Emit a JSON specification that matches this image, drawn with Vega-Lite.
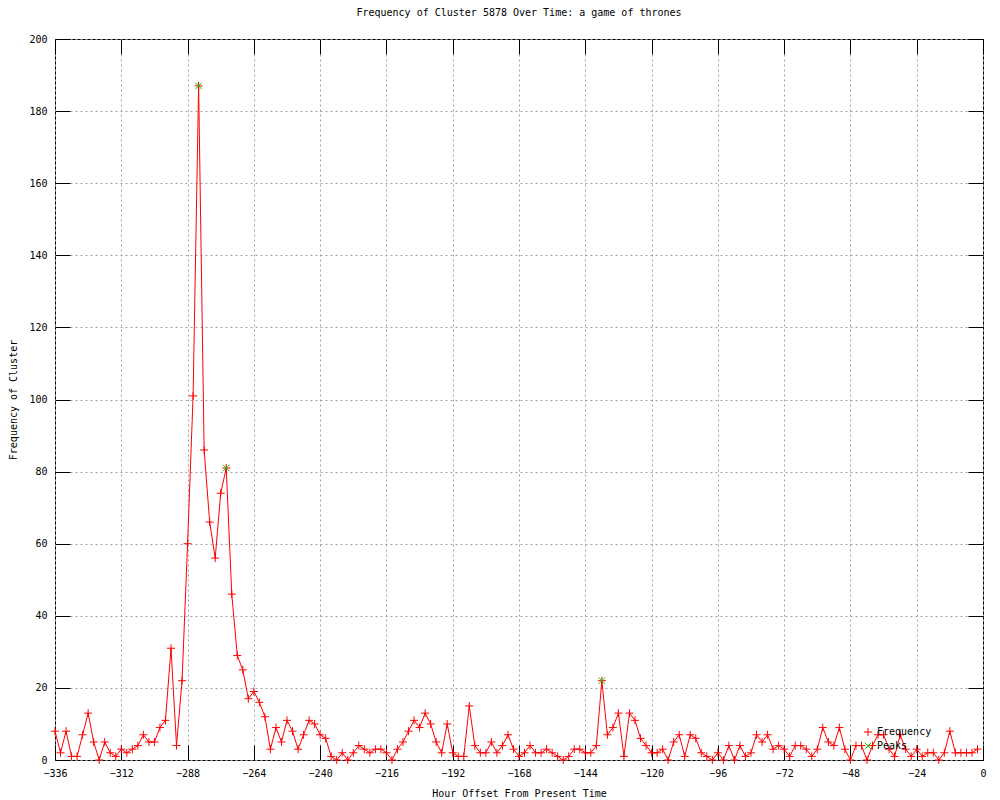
{
  "$schema": "https://vega.github.io/schema/vega-lite/v6.json",
  "width": 928,
  "height": 721,
  "autosize": {"type": "none"},
  "padding": {"left": 55, "top": 39, "right": 17, "bottom": 40},
  "background": "white",
  "title": {
    "text": "Frequency of Cluster 5878 Over Time: a game of thrones",
    "font": "DejaVu Sans Mono",
    "fontSize": 10,
    "fontWeight": "normal",
    "color": "black",
    "anchor": "middle",
    "offset": 16
  },
  "config": {
    "view": {"stroke": "black", "strokeWidth": 1},
    "axis": {
      "labelFont": "DejaVu Sans Mono",
      "labelFontSize": 10,
      "labelColor": "black",
      "labelFlush": false,
      "labelOverlap": false,
      "titleFont": "DejaVu Sans Mono",
      "titleFontSize": 10,
      "titleFontWeight": "normal",
      "titleColor": "black",
      "domain": false,
      "tickColor": "black",
      "tickSize": -15,
      "tickWidth": 1,
      "gridColor": "#a0a0a0",
      "gridDash": [2, 3],
      "gridWidth": 1,
      "gridOpacity": 1
    }
  },
  "data": {
    "values": [
      {"hour": -336, "count": 8, "series": "Frequency"},
      {"hour": -334, "count": 2, "series": "Frequency"},
      {"hour": -332, "count": 8, "series": "Frequency"},
      {"hour": -330, "count": 1, "series": "Frequency"},
      {"hour": -328, "count": 1, "series": "Frequency"},
      {"hour": -326, "count": 7, "series": "Frequency"},
      {"hour": -324, "count": 13, "series": "Frequency"},
      {"hour": -322, "count": 5, "series": "Frequency"},
      {"hour": -320, "count": 0, "series": "Frequency"},
      {"hour": -318, "count": 5, "series": "Frequency"},
      {"hour": -316, "count": 2, "series": "Frequency"},
      {"hour": -314, "count": 1, "series": "Frequency"},
      {"hour": -312, "count": 3, "series": "Frequency"},
      {"hour": -310, "count": 2, "series": "Frequency"},
      {"hour": -308, "count": 3, "series": "Frequency"},
      {"hour": -306, "count": 4, "series": "Frequency"},
      {"hour": -304, "count": 7, "series": "Frequency"},
      {"hour": -302, "count": 5, "series": "Frequency"},
      {"hour": -300, "count": 5, "series": "Frequency"},
      {"hour": -298, "count": 9, "series": "Frequency"},
      {"hour": -296, "count": 11, "series": "Frequency"},
      {"hour": -294, "count": 31, "series": "Frequency"},
      {"hour": -292, "count": 4, "series": "Frequency"},
      {"hour": -290, "count": 22, "series": "Frequency"},
      {"hour": -288, "count": 60, "series": "Frequency"},
      {"hour": -286, "count": 101, "series": "Frequency"},
      {"hour": -284, "count": 187, "series": "Frequency"},
      {"hour": -282, "count": 86, "series": "Frequency"},
      {"hour": -280, "count": 66, "series": "Frequency"},
      {"hour": -278, "count": 56, "series": "Frequency"},
      {"hour": -276, "count": 74, "series": "Frequency"},
      {"hour": -274, "count": 81, "series": "Frequency"},
      {"hour": -272, "count": 46, "series": "Frequency"},
      {"hour": -270, "count": 29, "series": "Frequency"},
      {"hour": -268, "count": 25, "series": "Frequency"},
      {"hour": -266, "count": 17, "series": "Frequency"},
      {"hour": -264, "count": 19, "series": "Frequency"},
      {"hour": -262, "count": 16, "series": "Frequency"},
      {"hour": -260, "count": 12, "series": "Frequency"},
      {"hour": -258, "count": 3, "series": "Frequency"},
      {"hour": -256, "count": 9, "series": "Frequency"},
      {"hour": -254, "count": 5, "series": "Frequency"},
      {"hour": -252, "count": 11, "series": "Frequency"},
      {"hour": -250, "count": 8, "series": "Frequency"},
      {"hour": -248, "count": 3, "series": "Frequency"},
      {"hour": -246, "count": 7, "series": "Frequency"},
      {"hour": -244, "count": 11, "series": "Frequency"},
      {"hour": -242, "count": 10, "series": "Frequency"},
      {"hour": -240, "count": 7, "series": "Frequency"},
      {"hour": -238, "count": 6, "series": "Frequency"},
      {"hour": -236, "count": 1, "series": "Frequency"},
      {"hour": -234, "count": 0, "series": "Frequency"},
      {"hour": -232, "count": 2, "series": "Frequency"},
      {"hour": -230, "count": 0, "series": "Frequency"},
      {"hour": -228, "count": 2, "series": "Frequency"},
      {"hour": -226, "count": 4, "series": "Frequency"},
      {"hour": -224, "count": 3, "series": "Frequency"},
      {"hour": -222, "count": 2, "series": "Frequency"},
      {"hour": -220, "count": 3, "series": "Frequency"},
      {"hour": -218, "count": 3, "series": "Frequency"},
      {"hour": -216, "count": 2, "series": "Frequency"},
      {"hour": -214, "count": 0, "series": "Frequency"},
      {"hour": -212, "count": 3, "series": "Frequency"},
      {"hour": -210, "count": 5, "series": "Frequency"},
      {"hour": -208, "count": 8, "series": "Frequency"},
      {"hour": -206, "count": 11, "series": "Frequency"},
      {"hour": -204, "count": 9, "series": "Frequency"},
      {"hour": -202, "count": 13, "series": "Frequency"},
      {"hour": -200, "count": 10, "series": "Frequency"},
      {"hour": -198, "count": 5, "series": "Frequency"},
      {"hour": -196, "count": 2, "series": "Frequency"},
      {"hour": -194, "count": 10, "series": "Frequency"},
      {"hour": -192, "count": 2, "series": "Frequency"},
      {"hour": -190, "count": 1, "series": "Frequency"},
      {"hour": -188, "count": 1, "series": "Frequency"},
      {"hour": -186, "count": 15, "series": "Frequency"},
      {"hour": -184, "count": 4, "series": "Frequency"},
      {"hour": -182, "count": 2, "series": "Frequency"},
      {"hour": -180, "count": 2, "series": "Frequency"},
      {"hour": -178, "count": 5, "series": "Frequency"},
      {"hour": -176, "count": 2, "series": "Frequency"},
      {"hour": -174, "count": 4, "series": "Frequency"},
      {"hour": -172, "count": 7, "series": "Frequency"},
      {"hour": -170, "count": 3, "series": "Frequency"},
      {"hour": -168, "count": 1, "series": "Frequency"},
      {"hour": -166, "count": 2, "series": "Frequency"},
      {"hour": -164, "count": 4, "series": "Frequency"},
      {"hour": -162, "count": 2, "series": "Frequency"},
      {"hour": -160, "count": 2, "series": "Frequency"},
      {"hour": -158, "count": 3, "series": "Frequency"},
      {"hour": -156, "count": 2, "series": "Frequency"},
      {"hour": -154, "count": 1, "series": "Frequency"},
      {"hour": -152, "count": 0, "series": "Frequency"},
      {"hour": -150, "count": 1, "series": "Frequency"},
      {"hour": -148, "count": 3, "series": "Frequency"},
      {"hour": -146, "count": 3, "series": "Frequency"},
      {"hour": -144, "count": 2, "series": "Frequency"},
      {"hour": -142, "count": 2, "series": "Frequency"},
      {"hour": -140, "count": 4, "series": "Frequency"},
      {"hour": -138, "count": 22, "series": "Frequency"},
      {"hour": -136, "count": 7, "series": "Frequency"},
      {"hour": -134, "count": 9, "series": "Frequency"},
      {"hour": -132, "count": 13, "series": "Frequency"},
      {"hour": -130, "count": 1, "series": "Frequency"},
      {"hour": -128, "count": 13, "series": "Frequency"},
      {"hour": -126, "count": 11, "series": "Frequency"},
      {"hour": -124, "count": 6, "series": "Frequency"},
      {"hour": -122, "count": 4, "series": "Frequency"},
      {"hour": -120, "count": 2, "series": "Frequency"},
      {"hour": -118, "count": 2, "series": "Frequency"},
      {"hour": -116, "count": 3, "series": "Frequency"},
      {"hour": -114, "count": 0, "series": "Frequency"},
      {"hour": -112, "count": 5, "series": "Frequency"},
      {"hour": -110, "count": 7, "series": "Frequency"},
      {"hour": -108, "count": 1, "series": "Frequency"},
      {"hour": -106, "count": 7, "series": "Frequency"},
      {"hour": -104, "count": 6, "series": "Frequency"},
      {"hour": -102, "count": 2, "series": "Frequency"},
      {"hour": -100, "count": 1, "series": "Frequency"},
      {"hour": -98, "count": 0, "series": "Frequency"},
      {"hour": -96, "count": 2, "series": "Frequency"},
      {"hour": -94, "count": 0, "series": "Frequency"},
      {"hour": -92, "count": 4, "series": "Frequency"},
      {"hour": -90, "count": 0, "series": "Frequency"},
      {"hour": -88, "count": 4, "series": "Frequency"},
      {"hour": -86, "count": 1, "series": "Frequency"},
      {"hour": -84, "count": 2, "series": "Frequency"},
      {"hour": -82, "count": 7, "series": "Frequency"},
      {"hour": -80, "count": 5, "series": "Frequency"},
      {"hour": -78, "count": 7, "series": "Frequency"},
      {"hour": -76, "count": 3, "series": "Frequency"},
      {"hour": -74, "count": 4, "series": "Frequency"},
      {"hour": -72, "count": 3, "series": "Frequency"},
      {"hour": -70, "count": 1, "series": "Frequency"},
      {"hour": -68, "count": 4, "series": "Frequency"},
      {"hour": -66, "count": 4, "series": "Frequency"},
      {"hour": -64, "count": 3, "series": "Frequency"},
      {"hour": -62, "count": 1, "series": "Frequency"},
      {"hour": -60, "count": 3, "series": "Frequency"},
      {"hour": -58, "count": 9, "series": "Frequency"},
      {"hour": -56, "count": 5, "series": "Frequency"},
      {"hour": -54, "count": 4, "series": "Frequency"},
      {"hour": -52, "count": 9, "series": "Frequency"},
      {"hour": -50, "count": 3, "series": "Frequency"},
      {"hour": -48, "count": 0, "series": "Frequency"},
      {"hour": -46, "count": 4, "series": "Frequency"},
      {"hour": -44, "count": 4, "series": "Frequency"},
      {"hour": -42, "count": 0, "series": "Frequency"},
      {"hour": -40, "count": 4, "series": "Frequency"},
      {"hour": -38, "count": 7, "series": "Frequency"},
      {"hour": -36, "count": 7, "series": "Frequency"},
      {"hour": -34, "count": 3, "series": "Frequency"},
      {"hour": -32, "count": 1, "series": "Frequency"},
      {"hour": -30, "count": 7, "series": "Frequency"},
      {"hour": -28, "count": 3, "series": "Frequency"},
      {"hour": -26, "count": 1, "series": "Frequency"},
      {"hour": -24, "count": 3, "series": "Frequency"},
      {"hour": -22, "count": 1, "series": "Frequency"},
      {"hour": -20, "count": 2, "series": "Frequency"},
      {"hour": -18, "count": 2, "series": "Frequency"},
      {"hour": -16, "count": 0, "series": "Frequency"},
      {"hour": -14, "count": 2, "series": "Frequency"},
      {"hour": -12, "count": 8, "series": "Frequency"},
      {"hour": -10, "count": 2, "series": "Frequency"},
      {"hour": -8, "count": 2, "series": "Frequency"},
      {"hour": -6, "count": 2, "series": "Frequency"},
      {"hour": -4, "count": 2, "series": "Frequency"},
      {"hour": -2, "count": 3, "series": "Frequency"},
      {"hour": -284, "count": 187, "series": "Peaks"},
      {"hour": -274, "count": 81, "series": "Peaks"},
      {"hour": -138, "count": 22, "series": "Peaks"}
    ]
  },
  "resolve": {"axis": {"x": "independent", "y": "independent"}},
  "layer": [
    {
      "transform": [{"filter": "datum.series === 'Frequency'"}],
      "mark": {"type": "line", "color": "#ff0000", "strokeWidth": 1, "clip": false},
      "encoding": {
        "x": {
          "field": "hour", "type": "quantitative",
          "scale": {"domain": [-336, 0], "nice": false, "zero": false},
          "axis": {
            "orient": "bottom",
            "title": "Hour Offset From Present Time",
            "values": [-336, -312, -288, -264, -240, -216, -192, -168, -144, -120, -96, -72, -48, -24, 0],
            "grid": true,
            "labelPadding": 23,
            "labelBaseline": "top",
            "titleY": 33,
            "titleBaseline": "middle"
          }
        },
        "y": {
          "field": "count", "type": "quantitative",
          "scale": {"domain": [0, 200], "nice": false, "zero": true},
          "axis": {
            "orient": "left",
            "title": "Frequency of Cluster",
            "values": [0, 20, 40, 60, 80, 100, 120, 140, 160, 180, 200],
            "grid": true,
            "labelPadding": 23,
            "titleX": -42,
            "titleBaseline": "middle"
          }
        }
      }
    },
    {
      "mark": {"type": "point", "filled": false, "strokeWidth": 1, "opacity": 1, "clip": false},
      "encoding": {
        "x": {"field": "hour", "type": "quantitative", "axis": null},
        "y": {"field": "count", "type": "quantitative", "axis": null},
        "color": {
          "field": "series", "type": "nominal",
          "scale": {"domain": ["Frequency", "Peaks"], "range": ["#ff0000", "#00cc00"]},
          "legend": {
            "title": null,
            "orient": "none",
            "legendX": 808,
            "legendY": 688,
            "labelFont": "DejaVu Sans Mono",
            "labelFontSize": 10,
            "labelColor": "black",
            "rowPadding": 2,
            "symbolSize": 64,
            "symbolStrokeWidth": 1,
            "padding": 0
          }
        },
        "shape": {
          "field": "series", "type": "nominal",
          "scale": {"domain": ["Frequency", "Peaks"], "range": ["M-1,0L1,0M0,-1L0,1", "M-0.8,-0.8L0.8,0.8M-0.8,0.8L0.8,-0.8"]}
        },
        "size": {"value": 64}
      }
    },
    {
      "mark": {"type": "point", "opacity": 0},
      "encoding": {
        "x": {
          "field": "hour", "type": "quantitative",
          "axis": {"orient": "top", "title": null, "labels": false, "grid": false,
                   "values": [-336, -312, -288, -264, -240, -216, -192, -168, -144, -120, -96, -72, -48, -24, 0]}
        },
        "y": {
          "field": "count", "type": "quantitative",
          "axis": {"orient": "right", "title": null, "labels": false, "grid": false,
                   "values": [0, 20, 40, 60, 80, 100, 120, 140, 160, 180, 200]}
        }
      }
    }
  ]
}
